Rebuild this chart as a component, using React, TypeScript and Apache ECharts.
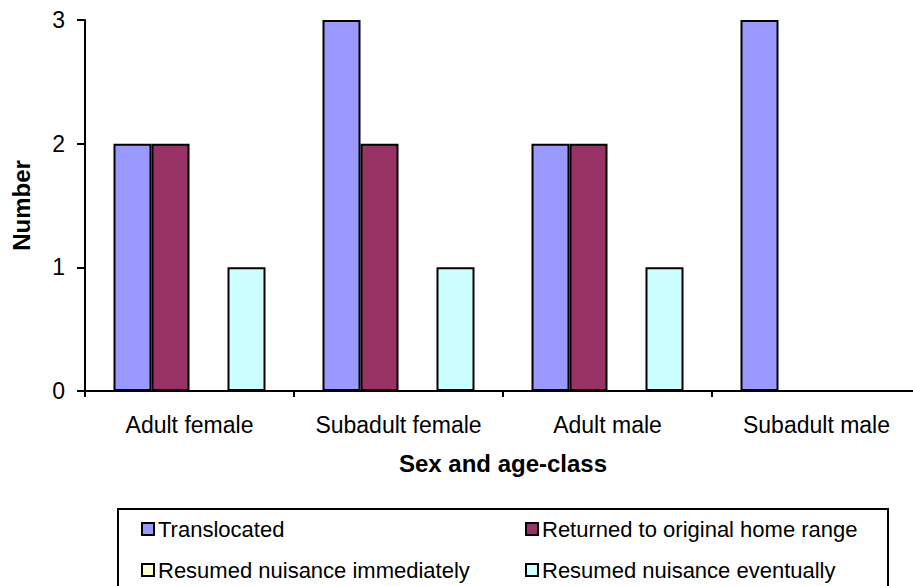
import React, { useEffect, useRef } from "react";
import * as echarts from "echarts";

const categories = ["Adult female", "Subadult female", "Adult male", "Subadult male"];
const seriesNames = [
  "Translocated",
  "Returned to original home range",
  "Resumed nuisance immediately",
  "Resumed nuisance eventually",
];
const translocated = [2, 3, 2, 3];
const returnedHome = [2, 2, 2, 0];
const resumedImmediately = [0, 0, 0, 0];
const resumedEventually = [1, 1, 1, 0];
const seriesColors = ["#9999FF", "#993366", "#FFFFCC", "#CCFFFF"];
const yTicks = [0, 1, 2, 3];

const FONT = "'Liberation Sans', Arial, sans-serif";

export default function App() {
  const ref = useRef<HTMLDivElement>(null);
  useEffect(() => {
    if (!ref.current) return;
    const chart = echarts.init(ref.current, undefined, { renderer: "svg" });
    const allData = [translocated, returnedHome, resumedImmediately, resumedEventually];
    const legendPos = [
      { left: 141, top: 518 },
      { left: 525, top: 518 },
      { left: 141, top: 559 },
      { left: 525, top: 559 },
    ];
    chart.setOption({
      animation: false,
      backgroundColor: "#ffffff",
      textStyle: { fontFamily: FONT },
      grid: { left: 85, top: 20, width: 836, bottom: 195, containLabel: false },
      xAxis: {
        type: "category",
        data: categories,
        name: "Sex and age-class",
        nameLocation: "middle",
        nameGap: 60,
        nameTextStyle: { fontFamily: FONT, fontSize: 24, fontWeight: "bold", color: "#000" },
        axisLine: { lineStyle: { color: "#000", width: 2 } },
        axisTick: { show: true, interval: 0, length: 6, lineStyle: { color: "#000", width: 2 } },
        axisLabel: { interval: 0, fontFamily: FONT, fontSize: 23, color: "#000", margin: 22 },
        splitLine: { show: false },
      },
      yAxis: {
        type: "value",
        min: yTicks[0],
        max: yTicks[yTicks.length - 1],
        interval: 1,
        name: "Number",
        nameLocation: "middle",
        nameRotate: 90,
        nameGap: 52,
        nameTextStyle: { fontFamily: FONT, fontSize: 24, fontWeight: "bold", color: "#000" },
        axisLine: { show: true, lineStyle: { color: "#000", width: 2 } },
        axisTick: { show: true, length: 8, lineStyle: { color: "#000", width: 2 } },
        axisLabel: { fontFamily: FONT, fontSize: 23, color: "#000", margin: 20 },
        splitLine: { show: false },
      },
      legend: seriesNames.map((n, i) => ({
        data: [n],
        left: legendPos[i].left,
        top: legendPos[i].top,
        icon: "rect",
        itemWidth: 12,
        itemHeight: 12,
        itemGap: 5,
        padding: 0,
        selectedMode: false,
        itemStyle: { borderColor: "#000", borderWidth: 2 },
        textStyle: { fontFamily: FONT, fontSize: 22, color: "#000", padding: [0, 0, 0, -1] },
      })),
      graphic: [
        {
          type: "rect",
          shape: { x: 118, y: 509, width: 770, height: 100 },
          style: { fill: "none", stroke: "#000", lineWidth: 2 },
          silent: true,
          z: 0,
        },
      ],
      series: seriesNames.map((n, i) => ({
        type: "bar",
        name: n,
        data: allData[i],
        barWidth: 38,
        barGap: "0%",
        itemStyle: { color: seriesColors[i], borderColor: "#000", borderWidth: 2 },
      })),
    });
    return () => chart.dispose();
  }, []);
  return (
    <div
      ref={ref}
      style={{ position: "fixed", left: 0, top: 0, width: 925, height: 586, background: "#fff" }}
    />
  );
}
